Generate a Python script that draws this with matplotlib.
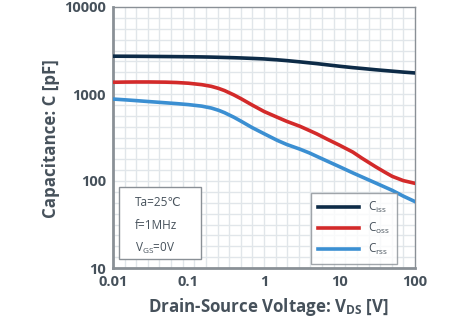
import matplotlib
matplotlib.use('Agg')
import matplotlib.pyplot as plt
import numpy as np

plt.rcParams['font.family'] = ['Open Sans', 'DejaVu Sans']
plt.rcParams['mathtext.fontset'] = 'custom'
plt.rcParams['mathtext.rm'] = 'Open Sans'
plt.rcParams['mathtext.bf'] = 'Open Sans:bold'
plt.rcParams['mathtext.it'] = 'Open Sans:italic'

# values
vds = [0.01, 0.015, 0.02, 0.03, 0.05, 0.07, 0.1, 0.15, 0.2, 0.25, 0.3, 0.4, 0.5, 0.7, 1,
       1.5, 2, 3, 4, 5, 7, 10, 15, 20, 30, 40, 50, 70, 100]
ciss = [2720, 2715, 2712, 2705, 2695, 2688, 2680, 2668, 2655, 2642, 2630, 2612, 2595, 2565, 2530,
        2470, 2420, 2340, 2280, 2235, 2160, 2085, 2010, 1965, 1900, 1860, 1830, 1785, 1745]
coss = [1365, 1372, 1375, 1375, 1368, 1355, 1330, 1280, 1225, 1160, 1095, 975, 880, 745, 630,
        540, 485, 425, 380, 348, 300, 258, 215, 182, 146, 126, 113, 101, 94]
crss = [875, 855, 840, 818, 792, 775, 755, 725, 690, 650, 610, 540, 485, 410, 350,
        293, 263, 232, 210, 192, 168, 146, 124, 111, 95, 85, 78, 67, 58]

series_names = ['C$_{\\rm iss}$', 'C$_{\\rm oss}$', 'C$_{\\rm rss}$']
series_colors = ['#0d2b47', '#d32a2a', '#3b8fd2']
xticks = [0.01, 0.1, 1, 10, 100]
xtick_labels = ['0.01', '0.1', '1', '10', '100']
yticks = [10, 100, 1000, 10000]
ytick_labels = ['10', '100', '1000', '10000']
conditions = ['Ta=25℃', 'f=1MHz', 'V$_{\\rm GS}$=0V']

text_col = '#46515b'

fig = plt.figure(figsize=(4.57, 3.27), dpi=100)
ax = fig.add_axes([113 / 457, 1 - 268 / 327, 302 / 457, 261 / 327])
ax.set_xscale('log')
ax.set_yscale('log')
ax.set_xlim(0.01, 100)
ax.set_ylim(10, 10000)

# uniform background grid (not tied to the log ticks)
for gx in np.linspace(0, 1, 27)[1:-1]:
    ax.plot([gx, gx], [0, 1], transform=ax.transAxes, color='#e1e6ea', lw=1.0, zorder=0)
for gy in np.linspace(0, 1, 25)[1:-1]:
    ax.plot([0, 1], [gy, gy], transform=ax.transAxes, color='#e1e6ea', lw=1.0, zorder=0)

for vals, name, col in zip([ciss, coss, crss], series_names, series_colors):
    ax.plot(vds, vals, color=col, lw=2.6, label=name, solid_joinstyle='round', zorder=3)

ax.set_xticks(xticks)
ax.set_xticklabels(xtick_labels)
ax.set_yticks(yticks)
ax.set_yticklabels(ytick_labels)
ax.minorticks_off()
ax.tick_params(length=0, labelsize=10.5, labelcolor=text_col, pad=5)
for lab in ax.get_xticklabels() + ax.get_yticklabels():
    lab.set_fontweight('bold')

for side in ['top', 'right']:
    ax.spines[side].set_color('#8a9096')
    ax.spines[side].set_linewidth(1.0)
for side in ['left', 'bottom']:
    ax.spines[side].set_color('#8a9096')
    ax.spines[side].set_linewidth(2.0)

fig.text(268 / 457, 1 - 307 / 327, 'Drain-Source Voltage: V$_{\\bf DS}$ [V]', ha='center', va='center',
         fontsize=12.2, fontweight='bold', color=text_col)
fig.text(51 / 457, 1 - 139 / 327, 'Capacitance: C [pF]', ha='center', va='center', rotation=90,
         fontsize=12.2, fontweight='bold', color=text_col)

leg = ax.legend(loc='lower right', bbox_to_anchor=(1 - 18 / 302, 4 / 261), fontsize=8.5,
                frameon=True, fancybox=False, handlelength=3.4, labelspacing=0.5,
                borderpad=0.6, handletextpad=0.8, borderaxespad=0)
leg.get_frame().set_edgecolor('#8a9096')
leg.get_frame().set_linewidth(1.0)
for t in leg.get_texts():
    t.set_color(text_col)

# conditions box
box = plt.Rectangle((6 / 302, 9 / 261), 82 / 302, 72 / 261, transform=ax.transAxes,
                    facecolor='white', edgecolor='#8a9096', lw=1.0, zorder=4)
ax.add_patch(box)
for i, s in enumerate(conditions):
    ax.text(22 / 302, (65 - 22.5 * i) / 261, s, transform=ax.transAxes, fontsize=8.5,
            color=text_col, va='center', ha='left', zorder=5)

fig.savefig('out.png', dpi=100)
